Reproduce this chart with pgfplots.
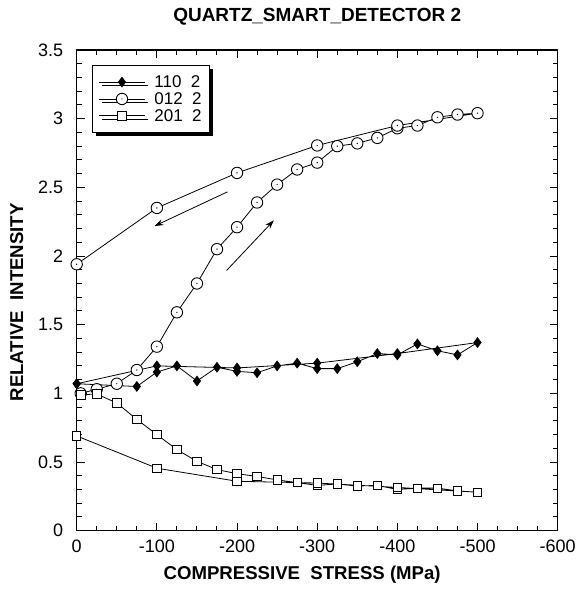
\documentclass[border=0pt]{standalone}
\usepackage{fontspec}
\setmainfont{Liberation Sans}
\usepackage{pgfplots}
\pgfplotsset{compat=1.18}
\usetikzlibrary{shadows,arrows.meta}
\pgfdeclareplotmark{odot}{%
  \pgfpathcircle{\pgfpointorigin}{\pgfplotmarksize}\pgfusepathqfillstroke
  \begin{pgfscope}\pgfsetfillcolor{black}%
  \pgfpathcircle{\pgfpointorigin}{0.7pt}\pgfusepathqfill\end{pgfscope}}
\begin{document}
\begin{tikzpicture}
\begin{axis}[
  name=ax,
  scale only axis, width=481pt, height=480.7pt,
  x dir=reverse, xmin=-600, xmax=0, ymin=0, ymax=3.5,
  xtick={-600,-500,...,0}, ytick={0,0.5,...,3.5},
  minor x tick num=3, minor y tick num=4,
  tick align=inside, xtick pos=both, ytick pos=both,
  major tick length=8pt, minor tick length=5pt,
  axis line style={line width=1.4pt},
  every tick/.style={black, line width=1pt},
  tick label style={font=\fontsize{18}{18}\selectfont},
  /pgf/number format/assume math mode=true,
  xticklabel style={yshift=-6pt},
  yticklabel style={xshift=-10pt},
  title={QUARTZ\_SMART\_DETECTOR 2},
  title style={font=\bfseries\fontsize{19}{19}\selectfont, yshift=15pt},
  xlabel={COMPRESSIVE\ \ STRESS (MPa)},
  xlabel style={font=\bfseries\fontsize{18.6}{19}\selectfont, yshift=-6pt, xshift=-15pt},
  ylabel={RELATIVE\ \ INTENSITY},
  ylabel style={font=\bfseries\fontsize{18.6}{19}\selectfont, at={(ticklabel cs:0.475)}, yshift=8pt},
  legend style={at={(0.032,0.969)}, anchor=north west, draw=black, line width=1pt,
    fill=white, font=\fontsize{17}{17}\selectfont, row sep=-0.5pt, inner xsep=6pt, inner ysep=8pt,
    drop shadow={shadow xshift=3.5pt, shadow yshift=-3.5pt, fill=black, opacity=1},
    cells={anchor=west, inner ysep=0.5pt}},
  legend image code/.code={\draw[line width=0.8pt] (0pt,0pt) -- (46pt,0pt); \draw plot coordinates {(23pt,0pt)};},
  every axis plot/.append style={black, line width=0.8pt},
]
\addplot[mark=diamond*, mark size=5pt, mark options={fill=black, line width=0.5pt}] coordinates {
 (0,1.07) (-75,1.05) (-100,1.155) (-125,1.20) (-150,1.09) (-175,1.19) (-200,1.16)
 (-225,1.15) (-250,1.20) (-275,1.22) (-300,1.18) (-325,1.18) (-350,1.23) (-375,1.29)
 (-400,1.28) (-425,1.36) (-450,1.31) (-475,1.28) (-500,1.37)
 (-400,1.29) (-300,1.22) (-200,1.185) (-100,1.20) (0,1.07)};
\addlegendentry{\hspace{7pt}110\ \ 2}
\addplot[mark=odot, mark size=5.7pt, mark options={fill=white, line width=0.9pt}] coordinates {
 (-5,1.00) (-25,1.03) (-50,1.07) (-75,1.17) (-100,1.34) (-125,1.59) (-150,1.80)
 (-175,2.05) (-200,2.21) (-225,2.39) (-250,2.52) (-275,2.63) (-300,2.68) (-325,2.80)
 (-350,2.82) (-375,2.86) (-400,2.93) (-425,2.95) (-450,3.01) (-475,3.03) (-500,3.04)
 (-400,2.95) (-300,2.805) (-200,2.605) (-100,2.35) (0,1.94)};
\addlegendentry{\hspace{7pt}012\ \ 2}
\addplot[mark=square*, mark size=4.2pt, mark options={fill=white, line width=0.8pt}] coordinates {
 (-5,0.99) (-25,0.995) (-50,0.93) (-75,0.81) (-100,0.70) (-125,0.59) (-150,0.505)
 (-175,0.445) (-200,0.415) (-225,0.395) (-250,0.37) (-275,0.35) (-300,0.33) (-325,0.34)
 (-350,0.325) (-375,0.33) (-400,0.30) (-425,0.31) (-450,0.31) (-475,0.29) (-500,0.28)
 (-400,0.315) (-300,0.347) (-200,0.36) (-100,0.455) (0,0.69)};
\addlegendentry{\hspace{7pt}201\ \ 2}
\draw[-{Stealth[length=9pt,width=6pt]}, line width=0.8pt] (axis cs:-188,2.467) -- (axis cs:-97,2.218);
\draw[-{Stealth[length=9pt,width=6pt]}, line width=0.8pt] (axis cs:-187,1.895) -- (axis cs:-246,2.26);
\end{axis}
\path ([shift={(-76.7pt,-59.3pt)}]ax.south west) rectangle ([shift={(21.3pt,50pt)}]ax.north east);
\end{tikzpicture}
\end{document}
